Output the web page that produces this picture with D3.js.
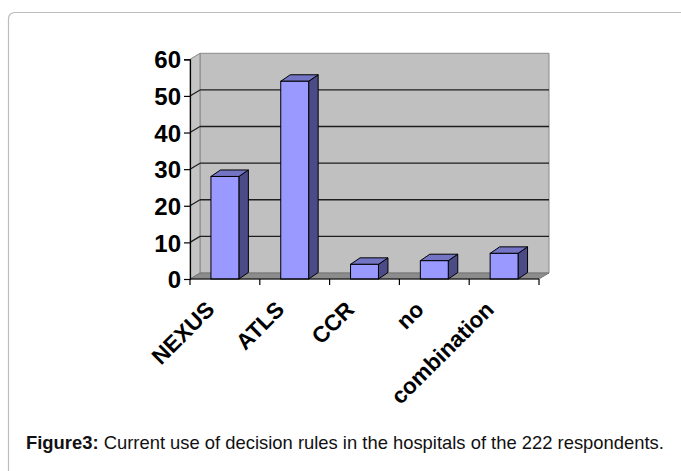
<!DOCTYPE html>
<html>
<head>
<meta charset="utf-8">
<script src="https://cdn.jsdelivr.net/npm/d3@7"></script>
<style>
  html, body { margin: 0; padding: 0; background: #fff; }
  svg { display: block; font-family: "Liberation Sans", Arial, sans-serif; }
</style>
</head>
<body>
<svg id="chart" width="681" height="471"></svg>
<script>
// Decision rules in use and the share of respondents reporting each
const categories = ["NEXUS", "ATLS", "CCR", "no", "combination"];
const values = [28, 54, 4, 5, 7];
const yTicks = [0, 10, 20, 30, 40, 50, 60];

const svg = d3.select("#chart");

// Frame around the figure
svg.append("rect")
  .attr("x", 8.5).attr("y", 12.5)
  .attr("width", 700).attr("height", 500)
  .attr("rx", 6).attr("ry", 6)
  .attr("fill", "none").attr("stroke", "#bdbdbd").attr("stroke-width", 1.2);

// Plot geometry: front plane plus a receding depth offset
const plotLeft = 190, plotRight = 539, plotBottom = 279, plotTop = 59.3;
const dx = 10, dy = -6;      // wall depth
const bdx = 9.5, bdy = -6.5; // bar depth

const x = d3.scaleBand().domain(categories).range([plotLeft, plotRight])
  .paddingInner(0.6).paddingOuter(0.3);
const y = d3.scaleLinear().domain([0, 60]).range([plotBottom, plotTop]);

const g = svg.append("g");
const pts = a => a.map(p => p.join(",")).join(" ");

// Back wall
g.append("polygon")
  .attr("points", pts([[plotLeft + dx, plotTop + dy], [plotRight + dx, plotTop + dy], [plotRight + dx, plotBottom + dy], [plotLeft + dx, plotBottom + dy]]))
  .attr("fill", "#c0c0c0").attr("stroke", "#8a8a8a").attr("stroke-width", 1);
// Side wall
g.append("polygon")
  .attr("points", pts([[plotLeft, plotTop], [plotLeft + dx, plotTop + dy], [plotLeft + dx, plotBottom + dy], [plotLeft, plotBottom]]))
  .attr("fill", "#c4c4c4").attr("stroke", "#8a8a8a").attr("stroke-width", 1);
// Floor
g.append("polygon")
  .attr("points", pts([[plotLeft, plotBottom], [plotLeft + dx, plotBottom + dy], [plotRight + dx, plotBottom + dy], [plotRight, plotBottom]]))
  .attr("fill", "#8c8c8c").attr("stroke", "#6e6e6e").attr("stroke-width", 0.8);

// Gridlines on back and side walls
const grid = yTicks.filter(t => t > 0 && t < 60);
g.selectAll("line.gridback").data(grid).join("line")
  .attr("class", "gridback")
  .attr("x1", plotLeft + dx).attr("x2", plotRight + dx)
  .attr("y1", d => y(d) + dy).attr("y2", d => y(d) + dy)
  .attr("stroke", "#1e1e1e").attr("stroke-width", 1.4);
g.selectAll("line.gridside").data(grid).join("line")
  .attr("class", "gridside")
  .attr("x1", plotLeft).attr("x2", plotLeft + dx)
  .attr("y1", d => y(d)).attr("y2", d => y(d) + dy)
  .attr("stroke", "#1e1e1e").attr("stroke-width", 1.2);

// 3D columns: side, top and front faces
const bars = g.selectAll("g.bar").data(categories.map((c, i) => ({ c, v: values[i] }))).join("g").attr("class", "bar");
bars.append("polygon") // side
  .attr("points", d => {
    const x1 = x(d.c) + x.bandwidth(), yt = y(d.v);
    return pts([[x1, yt], [x1 + bdx, yt + bdy], [x1 + bdx, plotBottom + bdy], [x1, plotBottom]]);
  })
  .attr("fill", "#4b4b88").attr("stroke", "#000").attr("stroke-width", 1).attr("stroke-linejoin", "round");
bars.append("polygon") // top
  .attr("points", d => {
    const x0 = x(d.c), x1 = x0 + x.bandwidth(), yt = y(d.v);
    return pts([[x0, yt], [x0 + bdx, yt + bdy], [x1 + bdx, yt + bdy], [x1, yt]]);
  })
  .attr("fill", "#7474c4").attr("stroke", "#000").attr("stroke-width", 1).attr("stroke-linejoin", "round");
bars.append("rect") // front
  .attr("x", d => x(d.c)).attr("y", d => y(d.v))
  .attr("width", x.bandwidth()).attr("height", d => plotBottom - y(d.v))
  .attr("fill", "#9999ff").attr("stroke", "#000").attr("stroke-width", 1);

// Y axis
const yAxis = g.append("g").attr("transform", `translate(${plotLeft},0)`)
  .call(d3.axisLeft(y).tickValues(yTicks).tickSize(6).tickPadding(3));
yAxis.select(".domain").attr("stroke", "#000").attr("stroke-width", 1.2);
yAxis.selectAll(".tick line").attr("stroke", "#000").attr("stroke-width", 1.2);
yAxis.selectAll(".tick text")
  .attr("font-family", "'Liberation Sans', Arial, sans-serif")
  .attr("font-size", 24).attr("font-weight", "bold").attr("fill", "#000")
  .attr("dy", "0.36em");

// X axis: baseline with ticks on the band boundaries
const xAxis = g.append("g");
xAxis.append("line")
  .attr("x1", plotLeft).attr("x2", plotRight).attr("y1", plotBottom).attr("y2", plotBottom)
  .attr("stroke", "#000").attr("stroke-width", 1.2);
const step = x.step();
const bounds = d3.range(categories.length + 1).map(i => x(categories[0]) - step * x.paddingOuter() + i * step);
xAxis.selectAll("line.tk").data(bounds).join("line").attr("class", "tk")
  .attr("x1", d => d).attr("x2", d => d).attr("y1", plotBottom).attr("y2", plotBottom + 6)
  .attr("stroke", "#000").attr("stroke-width", 1.2);

// Rotated category labels
xAxis.selectAll("text.cat").data(categories).join("text").attr("class", "cat")
  .attr("transform", d => `translate(${x(d) + x.bandwidth() / 2 - 9},311) rotate(-45)`)
  .attr("text-anchor", "end")
  .attr("font-size", 22.5).attr("font-weight", "bold").attr("fill", "#000")
  .text(d => d);

// Caption
const cap = svg.append("text").attr("x", 26).attr("y", 449)
  .attr("font-size", 18.4).attr("fill", "#111");
cap.append("tspan").attr("font-weight", "bold").text("Figure3:");
cap.append("tspan").text(" Current use of decision rules in the hospitals of the 222 respondents.");
</script>
</body>
</html>
